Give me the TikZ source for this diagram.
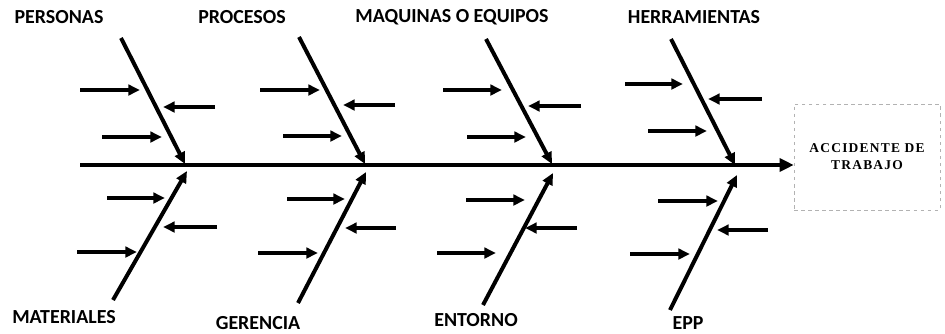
\documentclass[tikz,border=0pt]{standalone}
\usepackage{fontspec}
\newfontfamily\catfont{Carlito}
\newfontfamily\effectfont{Liberation Serif}[LetterSpace=9]
\usetikzlibrary{positioning,arrows.meta}

\begin{document}
\begin{tikzpicture}[
x=0.03cm,y=-0.03cm,
>={Triangle[length=10pt,width=9pt]},
cat/.style={font=\catfont\bfseries\fontsize{17}{19}\selectfont,
inner sep=0pt,text depth=0pt},
effect/.style={draw=gray!60,dashed,thin,minimum width=4.38cm,
minimum height=3.18cm,align=center,
font=\effectfont\bfseries\fontsize{11.5}{14.5}\selectfont},
spine/.style={line width=4pt,-{Triangle[length=12pt,width=11pt]}},
bone/.style={line width=3.4pt,->},
sub/.style={line width=2.6pt,->}]

\useasboundingbox (0,0) rectangle (945,333);

% effect
\node[effect] (acc) at (867,157) {ACCIDENTE DE\\TRABAJO};

% categories
\node[cat] (personas) at (59,17) {PERSONAS};
\node[cat] (procesos) at (242,17) {PROCESOS};
\node[cat] (maquinas) at (452,16) {MAQUINAS O EQUIPOS};
\node[cat] (herram) at (694,17) {HERRAMIENTAS};
\node[cat] (materiales) at (64,317) {MATERIALES};
\node[cat] (gerencia) at (258,323) {GERENCIA};
\node[cat] (entorno) at (476,320) {ENTORNO};
\node[cat] (epp) at (688,323) {EPP};

% spine
\coordinate (tail) at (80,165);
\draw[spine] (tail) -- (tail -| acc.west);

% bones
\coordinate (u1) at (121,38);
\coordinate (ut1) at (185,164);
\coordinate (u2) at (299,37);
\coordinate (ut2) at (365,164);
\coordinate (u3) at (486,39);
\coordinate (ut3) at (552,164);
\coordinate (u4) at (671,39);
\coordinate (ut4) at (735,165);
\coordinate (l1) at (113,300);
\coordinate (lt1) at (187,171);
\coordinate (l2) at (298,303);
\coordinate (lt2) at (366,172);
\coordinate (l3) at (483,305);
\coordinate (lt3) at (553,173);
\coordinate (l4) at (670,310);
\coordinate (lt4) at (737,175);

\draw[bone] (u1) -- (ut1);
\draw[bone] (u2) -- (ut2);
\draw[bone] (u3) -- (ut3);
\draw[bone] (u4) -- (ut4);
\draw[bone] (l1) -- (lt1);
\draw[bone] (l2) -- (lt2);
\draw[bone] (l3) -- (lt3);
\draw[bone] (l4) -- (lt4);

% sub causes
\draw[sub] (80,90) -- (140,90);
\draw[sub] (215,107) -- (163,107);
\draw[sub] (102,137) -- (162,137);
\draw[sub] (107,198) -- (165,198);
\draw[sub] (217,227) -- (163,227);
\draw[sub] (77,252) -- (137,252);

\draw[sub] (260,90) -- (320,90);
\draw[sub] (395,105) -- (343,105);
\draw[sub] (283,136) -- (342,136);
\draw[sub] (287,199) -- (345,199);
\draw[sub] (396,228) -- (345,228);
\draw[sub] (258,253) -- (318,253);

\draw[sub] (443,90) -- (502,90);
\draw[sub] (581,106) -- (528,106);
\draw[sub] (467,137) -- (526,137);
\draw[sub] (466,200) -- (525,200);
\draw[sub] (577,228) -- (525,228);
\draw[sub] (437,253) -- (496,253);

\draw[sub] (625,84) -- (683,84);
\draw[sub] (762,99) -- (708,99);
\draw[sub] (648,131) -- (707,131);
\draw[sub] (658,201) -- (718,201);
\draw[sub] (768,230) -- (717,230);
\draw[sub] (630,254) -- (690,254);

\end{tikzpicture}
\end{document}
